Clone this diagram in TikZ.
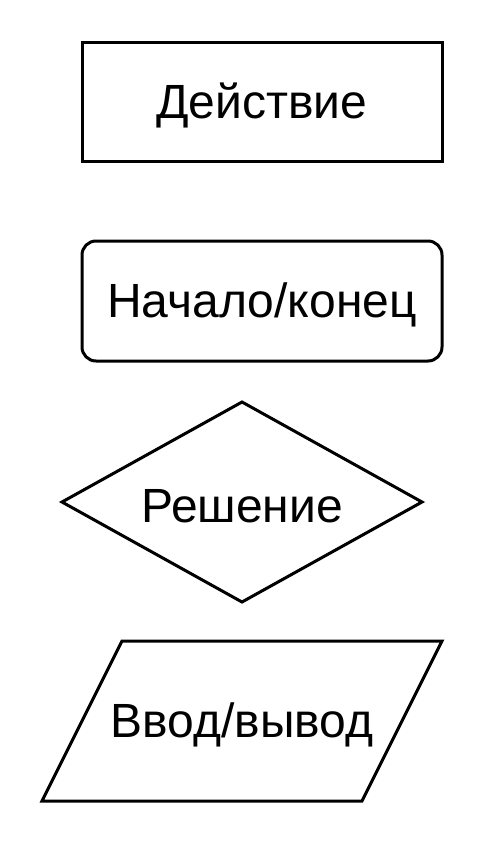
\documentclass[tikz,border=0pt]{standalone}
\usepackage{fontspec}
\setmainfont{Liberation Sans}
\usetikzlibrary{shapes.geometric, positioning}
\tikzset{
  shp/.style={draw=black, line width=3pt, fill=white, inner sep=0pt, outer sep=0pt},
  actbox/.style={shp, rectangle, minimum width=360pt, minimum height=119pt},
  termbox/.style={shp, rectangle, rounded corners=14pt, minimum width=360pt, minimum height=120pt},
  decbox/.style={shp, diamond, minimum width=360pt, minimum height=200pt},
  txt/.style={font=\fontsize{48}{56}\selectfont, inner sep=0pt, yshift=-4pt}
}
\begin{document}
\begin{tikzpicture}[x=1pt, y=-1pt]
  \useasboundingbox[fill=white] (0,0) rectangle (484,844);

  %% блоки
  \node[actbox]  (action)   at (262,101.5) {};
  \node[termbox] (terminal) at (262,301)   {};
  \node[decbox]  (decision) at (242,502)   {};

  %% ввод/вывод -- параллелограмм
  \coordinate (io) at (242,721);
  \draw[line width=3pt, line join=miter]
    ([shift={(-120pt,80pt)}]io) -- ([shift={(200pt,80pt)}]io)
    -- ([shift={(120pt,-80pt)}]io) -- ([shift={(-200pt,-80pt)}]io) -- cycle;

  %% подписи
  \node[txt] (actiontxt)   at (action)   {Действие};
  \node[txt] (terminaltxt) at (terminal) {Начало/конец};
  \node[txt] (decisiontxt) at (decision) {Решение};
  \node[txt] (iotxt)       at (io)       {Ввод/вывод};
\end{tikzpicture}
\end{document}
